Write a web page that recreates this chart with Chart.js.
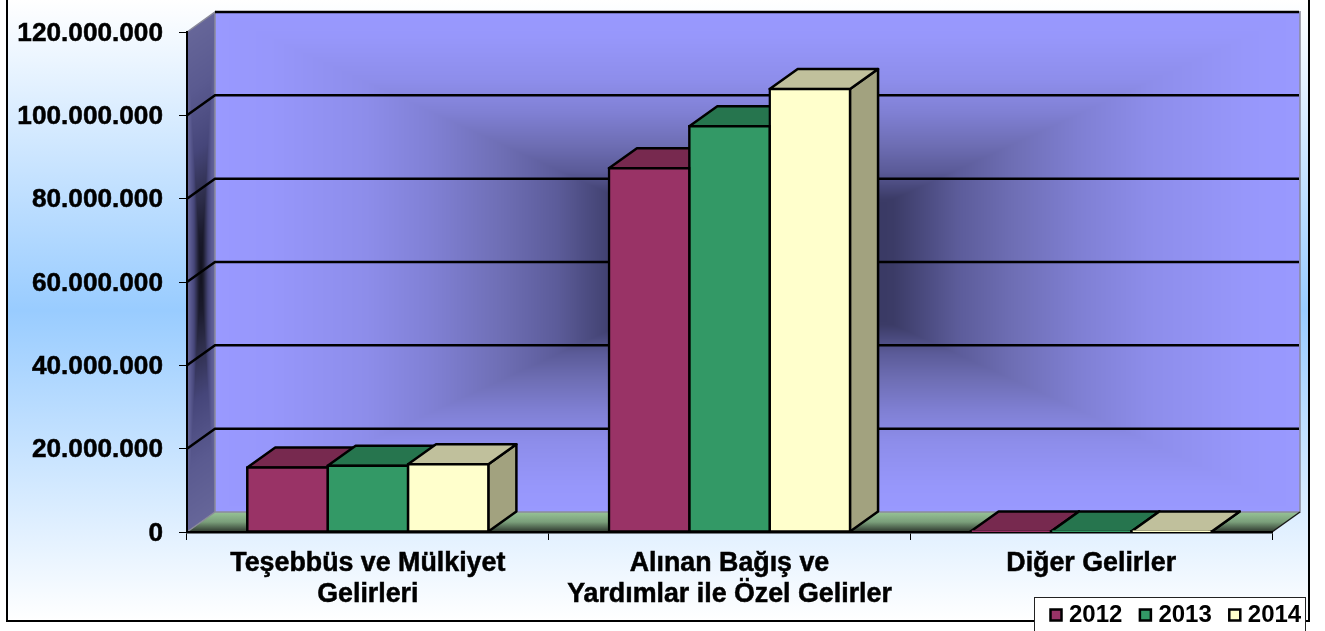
<!DOCTYPE html>
<html>
<head>
<meta charset="utf-8">
<title>Gelirler</title>
<script src="https://cdn.jsdelivr.net/npm/chart.js@4"></script>
<style>
  html, body { margin: 0; padding: 0; background: #fff; }
  canvas { display: block; }
</style>
</head>
<body>
<canvas id="incomeChart" width="1325" height="631"></canvas>
<script>
// Chart data
const categories = [
  ['Teşebbüs ve Mülkiyet', 'Gelirleri'],
  ['Alınan Bağış ve', 'Yardımlar ile Özel Gelirler'],
  'Diğer Gelirler'
];
const seriesNames = ['2012', '2013', '2014'];
const values2012 = [15500000, 87300000, 100000];
const values2013 = [15900000, 97400000, 100000];
const values2014 = [16250000, 106300000, 100000];

// Face colours of the 3D bars: front, top, side
const frontColors = ['#993366', '#339966', '#FFFFCC'];
const topColors = ['#77294F', '#26754E', '#C0C09C'];
const sideColors = ['#77294F', '#26754E', '#A2A27F'];

const DEPTH_X = 28;
const DEPTH_Y = 20;
const FONT = '"Liberation Sans", Arial, sans-serif';

const wallStops = [[0, '#303058'], [0.25, '#3b3b66'], [0.37, '#5c5c9a'], [0.47, '#6e6eb4'],
  [0.6, '#8080d4'], [0.72, '#8d8dea'], [0.9, '#9797fb'], [1, '#9999ff']];
const sideStops = [[0, '#12121f'], [0.15, '#1a1a2c'], [0.3, '#2e2e4c'], [0.5, '#46467a'],
  [0.75, '#5a5a90'], [1, '#666699']];

function hexToRgb(hex) {
  return [1, 3, 5].map(i => parseInt(hex.substr(i, 2), 16));
}

// Rectangular "path" gradient, dark in the middle and light at the edges
function makeGlow(w, h, stops) {
  const off = document.createElement('canvas');
  off.width = w;
  off.height = h;
  const octx = off.getContext('2d');
  const img = octx.createImageData(w, h);
  const rgb = stops.map(s => hexToRgb(s[1]));
  for (let py = 0; py < h; py++) {
    for (let px = 0; px < w; px++) {
      const t = Math.max(Math.abs(px + 0.5 - w / 2) / (w / 2), Math.abs(py + 0.5 - h / 2) / (h / 2));
      let i = 0;
      while (i < stops.length - 2 && t > stops[i + 1][0]) i++;
      const f = Math.min(1, (t - stops[i][0]) / (stops[i + 1][0] - stops[i][0]));
      const o = (py * w + px) * 4;
      for (let c = 0; c < 3; c++) img.data[o + c] = rgb[i][c] + (rgb[i + 1][c] - rgb[i][c]) * f;
      img.data[o + 3] = 255;
    }
  }
  octx.putImageData(img, 0, 0);
  return off;
}

function poly(ctx, pts) {
  ctx.beginPath();
  pts.forEach((p, i) => (i ? ctx.lineTo(p[0], p[1]) : ctx.moveTo(p[0], p[1])));
  ctx.closePath();
}

// Page background, frame, walls, floor, gridlines and legend box
const backdropPlugin = {
  id: 'backdrop',
  afterLayout(chart) {
    // Legend sits in the bottom right corner, over the frame
    const legend = chart.legend;
    legend.left = 1033;
    legend.right = 1325;
    legend.top = 581;
    // two-line category labels are clipped to the scale box otherwise
    chart.scales.x.bottom = chart.height;
  },
  beforeDraw(chart) {
    const { ctx, chartArea: a, scales } = chart;
    ctx.save();
    ctx.fillStyle = '#fff';
    ctx.fillRect(0, 0, chart.width, chart.height);

    const bg = ctx.createLinearGradient(0, 0, 0, 621);
    bg.addColorStop(0, '#ffffff');
    bg.addColorStop(0.5, '#99ccff');
    bg.addColorStop(1, '#ffffff');
    ctx.fillStyle = bg;
    ctx.fillRect(7, 0, 1302, 621);
    ctx.strokeStyle = '#000';
    ctx.lineWidth = 2;
    ctx.strokeRect(7, -5, 1302, 626);

    const w = Math.round(a.right - a.left);
    const h = Math.round(a.bottom - a.top);

    // back wall
    ctx.drawImage(makeGlow(w, h, wallStops), a.left + DEPTH_X, a.top - DEPTH_Y);

    // side wall, sheared into place
    ctx.save();
    ctx.transform(1, -DEPTH_Y / DEPTH_X, 0, 1, a.left, a.top);
    ctx.drawImage(makeGlow(DEPTH_X, h, sideStops), 0, 0);
    ctx.restore();

    // floor
    const floor = ctx.createLinearGradient(0, a.bottom - DEPTH_Y, 0, a.bottom);
    floor.addColorStop(0, '#97c497');
    floor.addColorStop(0.5, '#7a9e7a');
    floor.addColorStop(0.8, '#4c604c');
    floor.addColorStop(1, '#2c362c');
    ctx.fillStyle = floor;
    poly(ctx, [[a.left, a.bottom], [a.right, a.bottom], [a.right + DEPTH_X, a.bottom - DEPTH_Y], [a.left + DEPTH_X, a.bottom - DEPTH_Y]]);
    ctx.fill();

    // grey wall edges
    ctx.strokeStyle = '#8a8a9a';
    ctx.lineWidth = 1.5;
    ctx.beginPath();
    ctx.moveTo(a.left, a.top);
    ctx.lineTo(a.left + DEPTH_X, a.top - DEPTH_Y);
    ctx.lineTo(a.left + DEPTH_X, a.bottom - DEPTH_Y);
    ctx.lineTo(a.right + DEPTH_X, a.bottom - DEPTH_Y);
    ctx.lineTo(a.right + DEPTH_X, a.top - DEPTH_Y - 1);
    ctx.moveTo(a.left, a.bottom);
    ctx.lineTo(a.left + DEPTH_X, a.bottom - DEPTH_Y);
    ctx.stroke();

    ctx.strokeStyle = '#1a1a1a';
    ctx.lineWidth = 1.5;
    ctx.beginPath();
    ctx.moveTo(a.right, a.bottom);
    ctx.lineTo(a.right + DEPTH_X, a.bottom - DEPTH_Y);
    ctx.stroke();

    // gridlines run along the side wall, then along the back wall
    ctx.strokeStyle = '#000';
    ctx.lineWidth = 2.5;
    scales.y.ticks.forEach(tick => {
      if (tick.value === 0) return;
      const y = scales.y.getPixelForValue(tick.value);
      ctx.beginPath();
      if (tick.value < scales.y.max) {
        ctx.moveTo(a.left, y);
        ctx.lineTo(a.left + DEPTH_X, y - DEPTH_Y);
      } else {
        ctx.moveTo(a.left + DEPTH_X, y - DEPTH_Y);
      }
      ctx.lineTo(a.right + DEPTH_X - 1, y - DEPTH_Y);
      ctx.stroke();
    });

    // legend box
    ctx.fillStyle = '#fff';
    ctx.fillRect(1034, 597, 272, 40);
    ctx.strokeStyle = '#222';
    ctx.lineWidth = 1;
    ctx.strokeRect(1034.5, 597.5, 271, 40);
    ctx.restore();
  },
  // Top and side faces come from the bar elements; the fronts are drawn over them
  beforeDatasetsDraw(chart) {
    const { ctx } = chart;
    ctx.save();
    ctx.strokeStyle = '#000';
    ctx.lineWidth = 2.5;
    ctx.lineJoin = 'round';
    chart.data.datasets.forEach((ds, d) => {
      chart.getDatasetMeta(d).data.forEach(bar => {
        const l = bar.x - bar.width / 2;
        const r = bar.x + bar.width / 2;
        const t = bar.y;
        const b = bar.base;
        ctx.fillStyle = sideColors[d];
        poly(ctx, [[r, t], [r + DEPTH_X, t - DEPTH_Y], [r + DEPTH_X, b - DEPTH_Y], [r, b]]);
        ctx.fill();
        ctx.stroke();
        ctx.fillStyle = topColors[d];
        poly(ctx, [[l, t], [r, t], [r + DEPTH_X, t - DEPTH_Y], [l + DEPTH_X, t - DEPTH_Y]]);
        ctx.fill();
        ctx.stroke();
      });
    });
    ctx.restore();
  }
};

const seriesValues = [values2012, values2013, values2014];

new Chart(document.getElementById('incomeChart'), {
  type: 'bar',
  data: {
    labels: categories,
    datasets: seriesNames.map((name, i) => ({
      label: name,
      data: seriesValues[i],
      backgroundColor: frontColors[i],
      borderColor: '#000',
      borderWidth: 2.5,
      borderSkipped: false,
      inflateAmount: 1.25,
      categoryPercentage: 2 / 3,
      barPercentage: 1
    }))
  },
  options: {
    responsive: false,
    animation: false,
    layout: { padding: { top: 32, right: 53, left: 0, bottom: 0 } },
    scales: {
      x: {
        afterFit: scale => { scale.height = 43; },
        grid: { drawOnChartArea: false, color: '#000', lineWidth: 1, tickLength: 8 },
        border: { color: '#000', width: 2.5 },
        ticks: {
          color: '#000',
          padding: 8,
          maxRotation: 0,
          autoSkip: false,
          textStrokeColor: '#000',
          textStrokeWidth: 0.5,
          font: { family: FONT, size: 26.8, weight: 'bold', lineHeight: 1.16 }
        }
      },
      y: {
        min: 0,
        max: 120000000,
        afterFit: scale => { scale.width = 187; },
        grid: { drawOnChartArea: false, color: '#000', lineWidth: 1, tickLength: 8 },
        border: { color: '#000', width: 2 },
        ticks: {
          stepSize: 20000000,
          color: '#000',
          padding: 16,
          labelOffset: 1.5,
          textStrokeColor: '#000',
          textStrokeWidth: 0.5,
          font: { family: FONT, size: 26.2, weight: 'bold' },
          callback: value => value.toLocaleString('de-DE')
        }
      }
    },
    plugins: {
      tooltip: { enabled: false },
      legend: {
        position: 'bottom',
        align: 'start',
        labels: {
          color: '#000',
          usePointStyle: true,
          pointStyle: 'rect',
          boxWidth: 2,
          boxHeight: 11,
          padding: 22,
          font: { family: FONT, size: 24, weight: 'bold' }
        }
      }
    }
  },
  plugins: [backdropPlugin]
});
</script>
</body>
</html>
